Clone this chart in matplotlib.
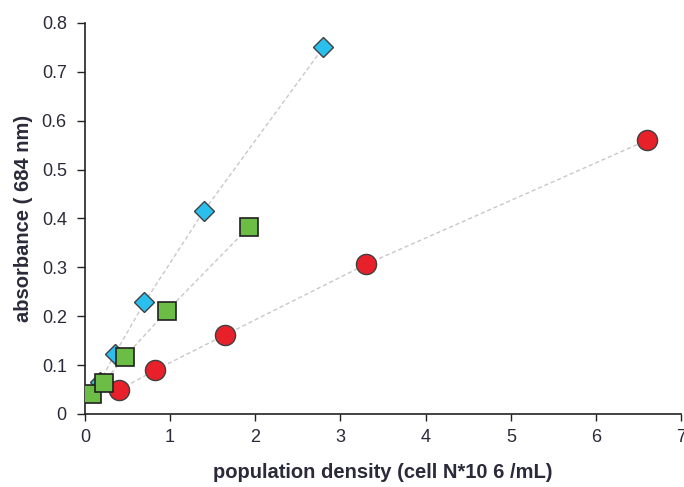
import matplotlib.pyplot as plt

plt.rcParams['font.family'] = ['Liberation Sans', 'DejaVu Sans']

# population density (cell N*10^6/mL) vs absorbance at 684 nm
blue_x = [0.175, 0.35, 0.70, 1.40, 2.80]
blue_y = [0.065, 0.122, 0.228, 0.416, 0.750]

green_x = [0.09, 0.22, 0.47, 0.96, 1.93]
green_y = [0.041, 0.064, 0.117, 0.210, 0.383]

red_x = [0.40, 0.82, 1.65, 3.30, 6.60]
red_y = [0.049, 0.089, 0.162, 0.306, 0.560]

x_ticks = [0, 1, 2, 3, 4, 5, 6, 7]
y_ticks = [0, 0.1, 0.2, 0.3, 0.4, 0.5, 0.6, 0.7, 0.8]

text_color = '#2a2a3a'

fig = plt.figure(figsize=(6.84, 4.87), dpi=100)
ax = fig.add_axes([0.124, 0.150, 0.872, 0.803])

line_kw = dict(color='#c8c8c8', linestyle=(0, (3, 2)), linewidth=1, zorder=1)
ax.plot(blue_x, blue_y, **line_kw)
ax.plot(green_x, green_y, **line_kw)
ax.plot(red_x, red_y, **line_kw)

ax.plot(blue_x, blue_y, 'D', markersize=10.5, markerfacecolor='#2bbfee',
        markeredgecolor='#404040', markeredgewidth=1, linestyle='none', zorder=3)
ax.plot(red_x, red_y, 'o', markersize=14.5, markerfacecolor='#e8202a',
        markeredgecolor='#404040', markeredgewidth=1, linestyle='none', zorder=3)
ax.plot(green_x, green_y, 's', markersize=13.5, markerfacecolor='#6cbd45',
        markeredgecolor='#202020', markeredgewidth=1.2, linestyle='none', zorder=4)

ax.set_xlim(0, 7)
ax.set_ylim(0, 0.8)
ax.set_xticks(x_ticks)
ax.set_yticks(y_ticks)
ax.set_xticklabels([str(t) for t in x_ticks])
ax.set_yticklabels(['0'] + [f'{t:.1f}' for t in y_ticks[1:]])
ax.tick_params(direction='out', width=1, labelsize=13, colors='#222222',
               labelcolor=text_color)
ax.tick_params(axis='x', length=5, pad=6)
ax.tick_params(axis='y', length=6, pad=7)

for side in ('top', 'right'):
    ax.spines[side].set_visible(False)
for side in ('left', 'bottom'):
    ax.spines[side].set_color('#222222')
    ax.spines[side].set_linewidth(1.2)

ax.set_xlabel('population density (cell N*10 6 /mL)', fontsize=14.5,
              fontweight='bold', labelpad=12, color=text_color)
ax.set_ylabel('absorbance ( 684 nm)', fontsize=14.5, fontweight='bold',
              labelpad=6, color=text_color)

fig.savefig('out.png', dpi=100)
